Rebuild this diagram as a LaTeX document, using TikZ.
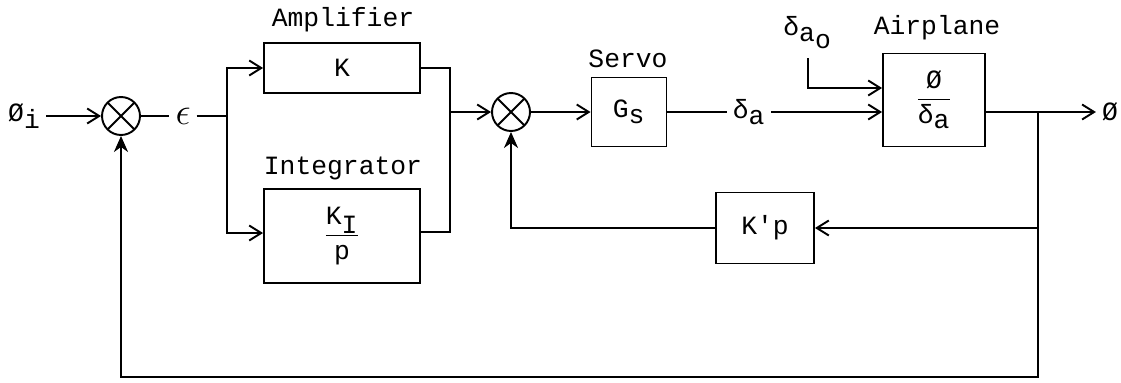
\documentclass[tikz,border=0pt]{standalone}
\usepackage{fontspec}
\setmonofont{Liberation Mono}
\usetikzlibrary{arrows.meta,positioning}

\begin{document}
\begin{tikzpicture}[
  x=0.02cm, y=-0.02cm,
  every node/.style={font=\ttfamily\fontsize{15}{17}\selectfont},
  block/.style={draw, line width=1.1pt, inner sep=0pt},
  sum/.style={draw, circle, line width=1.1pt, minimum size=0.76cm, inner sep=0pt,
              path picture={\draw[line width=1.1pt]
                (path picture bounding box.north west) -- (path picture bounding box.south east)
                (path picture bounding box.north east) -- (path picture bounding box.south west);}},
  wire/.style={line width=1.1pt},
  sig/.style={wire, -{Straight Barb[length=2.4mm,width=3mm,line width=1.1pt]}},
  fb/.style={line width=1.3pt, -{Stealth[length=3.2mm,width=2.8mm,inset=1mm]}},
]
\useasboundingbox (0,0) rectangle (1121,382);

% -- forward path --
\node[sum] (s1) at (121,116) {};
\node (phii) at (24,116) {Ø\raisebox{-0.55ex}{i}};
\node (eps) at (183,116) {\scalebox{1.5}{$\epsilon$}};
\coordinate (split) at (227,116);

\node[block, minimum width=3.12cm, minimum height=1cm] (amp) at (342,68) {K};
\node (amplbl) at (343,20) {Amplifier};
\node[block, minimum width=3.12cm, minimum height=1.88cm] (integ) at (342,236)
  {$\displaystyle\frac{\hbox{K}_{\hbox{I}}}{\hbox{p}}$};
\node (intlbl) at (343,168) {Integrator};
\coordinate (join) at (450,112);

\node[sum] (s2) at (511,112) {};
\node[block, minimum width=1.5cm, minimum height=1.38cm] (servo) at (629,112)
  {$\hbox{G}_{\hbox{s}}$};
\node (srvlbl) at (628,59) {Servo};
\node (da) at (749,112) {$\hbox{δ}_{\hbox{a}}$};

\node[block, minimum width=2.04cm, minimum height=1.86cm] (plane) at (934,100)
  {$\displaystyle\frac{\hbox{Ø}}{\hbox{δ}_{\hbox{a}}}$};
\node (plnlbl) at (937,28) {Airplane};
\node (dao) at (808,33) {$\hbox{δ}_{\hbox{a}_{\hbox{o}}}$};
\coordinate (daotop) at (808,58);
\coordinate (tap) at (1038,112);
\node (phi) at (1110,112) {Ø};

% -- feedback path --
\node[block, minimum width=1.96cm, minimum height=1.42cm] (kp) at (765,228) {K'p};
\coordinate (bot) at (121,377);

% -- connectors --
\draw[sig] (phii) -- (s1);
\draw[wire] (s1) -- (eps);
\draw[wire] (eps) -- (split);
\draw[sig] (split) |- (amp.west);
\draw[sig] (split) |- ([yshift=0.06cm]integ.west);
\draw[wire] (amp.east) -| (join);
\draw[wire] ([yshift=0.08cm]integ.east) -| (join);
\draw[sig] (join) -- (s2);
\draw[sig] (s2) -- (servo);
\draw[wire] (servo) -- (da);
\draw[sig] (da) -- (da -| plane.west);
\draw[sig] (daotop) |- ([yshift=0.24cm]plane.west);
\draw[wire] (plane.east |- tap) -- (tap);
\draw[sig] (tap) -- (phi);
\draw[sig] (tap) |- (kp.east);
\draw[fb] (kp.west) -| (s2.south);
\draw[fb] (tap) |- (bot) -- (s1.south);

\end{tikzpicture}
\end{document}
